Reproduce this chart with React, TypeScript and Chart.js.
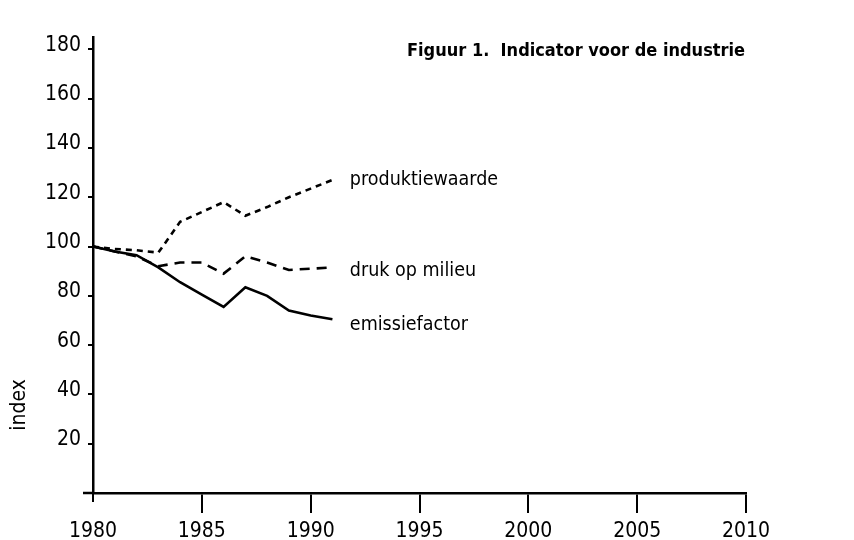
import { useEffect, useRef } from "react";
import { Chart, registerables } from "chart.js";

Chart.register(...registerables);

// ---- data ----
const years = [1980, 1981, 1982, 1983, 1984, 1985, 1986, 1987, 1988, 1989, 1990, 1991];
const produktiewaarde = [100, 99, 98.5, 97.5, 110, 114, 118, 112.5, 116, 120, 123.5, 127];
const drukOpMilieu = [100, 98, 96, 92, 93.5, 93.5, 89, 96, 93.5, 90.5, 91, 91.5];
const emissiefactor = [100, 98, 96.5, 91.5, 85.5, 80.5, 75.5, 83.5, 80, 74, 72, 70.5];
const seriesNames = ["produktiewaarde", "druk op milieu", "emissiefactor"];
const xTickValues = [1980, 1985, 1990, 1995, 2000, 2005, 2010];
const yTickValues = [20, 40, 60, 80, 100, 120, 140, 160, 180];
const titleText = "Figuur 1.  Indicator voor de industrie";
const yAxisTitle = "index";

// label anchor (data coordinates) for each series name
const labelAnchorX = 1991.8;
const labelAnchorY = [125, 88, 66];

const FONT_COND = "'DejaVu Sans Condensed', 'DejaVu Sans', sans-serif";

const annotations = {
  id: "annotations",
  beforeDraw(chart: any) {
    const { ctx } = chart;
    ctx.save();
    ctx.fillStyle = "#ffffff";
    ctx.fillRect(0, 0, chart.width, chart.height);
    ctx.restore();
  },
  afterDraw(chart: any) {
    const { ctx, chartArea, scales } = chart;
    const xs = scales.x;
    const ys = scales.y;
    ctx.save();
    ctx.fillStyle = "#000";
    ctx.strokeStyle = "#000";
    // small axis extensions at the origin
    ctx.lineWidth = 2.5;
    ctx.beginPath();
    ctx.moveTo(chartArea.left - 10, chartArea.bottom);
    ctx.lineTo(chartArea.left, chartArea.bottom);
    ctx.stroke();
    ctx.lineWidth = 2;
    ctx.beginPath();
    ctx.moveTo(chartArea.left, chartArea.bottom - 3);
    ctx.lineTo(chartArea.left, chartArea.bottom + 9);
    ctx.stroke();

    // series labels
    ctx.font = `19.5px ${FONT_COND}`;
    ctx.textAlign = "left";
    ctx.textBaseline = "alphabetic";
    seriesNames.forEach((name, i) => {
      ctx.fillText(name, xs.getPixelForValue(labelAnchorX), ys.getPixelForValue(labelAnchorY[i]));
    });

    // title
    ctx.font = `bold 18px ${FONT_COND}`;
    ctx.fillText(titleText, chartArea.left + 314, chartArea.top + 19);

    // y axis title
    ctx.font = `21px ${FONT_COND}`;
    ctx.translate(25, 405);
    ctx.rotate(-Math.PI / 2);
    ctx.textAlign = "center";
    ctx.fillText(yAxisTitle, 0, 0);
    ctx.restore();
  },
};

export default function App() {
  const ref = useRef<HTMLCanvasElement | null>(null);

  useEffect(() => {
    if (!ref.current) return;
    const mk = (vals: number[]) => years.map((y, i) => ({ x: y, y: vals[i] }));
    const chart = new Chart(ref.current, {
      type: "line",
      data: {
        datasets: [
          {
            label: seriesNames[0],
            data: mk(produktiewaarde),
            borderColor: "#000",
            borderWidth: 2.6,
            borderDash: [6, 5],
            pointRadius: 0,
            tension: 0,
            fill: false,
          },
          {
            label: seriesNames[1],
            data: mk(drukOpMilieu),
            borderColor: "#000",
            borderWidth: 2.6,
            borderDash: [10, 7],
            pointRadius: 0,
            tension: 0,
            fill: false,
          },
          {
            label: seriesNames[2],
            data: mk(emissiefactor),
            borderColor: "#000",
            borderWidth: 2.6,
            pointRadius: 0,
            tension: 0,
            fill: false,
          },
        ],
      },
      options: {
        animation: false,
        responsive: false,
        maintainAspectRatio: false,
        layout: { padding: { left: 0, right: 108, top: 37, bottom: 0 } },
        plugins: {
          legend: { display: false },
          tooltip: { enabled: false },
          title: { display: false },
        },
        scales: {
          x: {
            type: "linear",
            min: 1980,
            max: 2010,
            afterBuildTicks: (s: any) => {
              s.ticks = xTickValues.map((v) => ({ value: v }));
            },
            afterFit: (s: any) => {
              s.height = 47;
            },
            grid: {
              drawOnChartArea: false,
              drawTicks: true,
              tickLength: 20,
              color: (c: any) => (c.tick && c.tick.value === 1980 ? "rgba(0,0,0,0)" : "#000"),
              lineWidth: 2,
            },
            border: { color: "#000", width: 2.5 },
            ticks: {
              color: "#000",
              font: { family: FONT_COND, size: 21 },
              padding: 6,
              maxRotation: 0,
              autoSkip: false,
              callback: (v: any) => String(v),
            },
          },
          y: {
            type: "linear",
            min: 0,
            max: 185,
            afterBuildTicks: (s: any) => {
              s.ticks = yTickValues.map((v) => ({ value: v }));
            },
            afterFit: (s: any) => {
              s.width = 93;
            },
            grid: {
              drawOnChartArea: false,
              drawTicks: true,
              tickLength: 5,
              color: "#000",
              lineWidth: 2,
            },
            border: { color: "#000", width: 2.5 },
            ticks: {
              color: "#000",
              font: { family: FONT_COND, size: 21 },
              padding: 7,
              labelOffset: -4,
              autoSkip: false,
              callback: (v: any) => String(v),
            },
          },
        },
      },
      plugins: [annotations],
    });
    return () => chart.destroy();
  }, []);

  return (
    <div style={{ position: "fixed", left: 0, top: 0, width: 854, height: 540, background: "#fff" }}>
      <canvas ref={ref} width={854} height={540} style={{ width: 854, height: 540, display: "block" }} />
    </div>
  );
}
